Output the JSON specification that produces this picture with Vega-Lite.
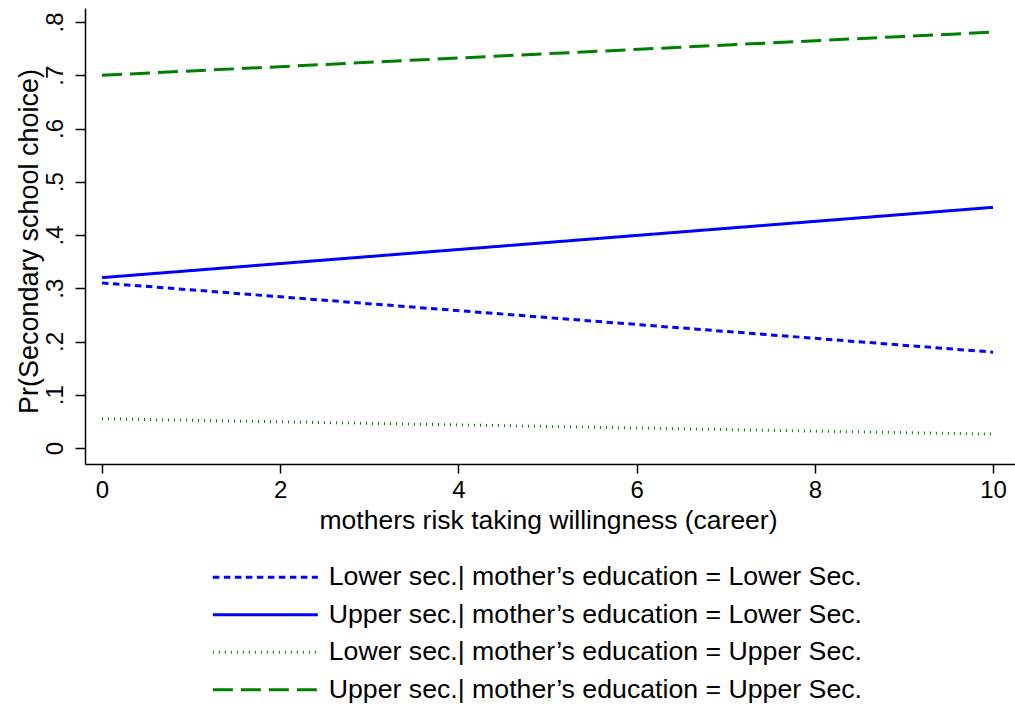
{
  "$schema": "https://vega.github.io/schema/vega-lite/v6.json",
  "width": 930,
  "height": 456,
  "autosize": "none",
  "padding": {"left": 85, "top": 8, "right": 0, "bottom": 241},
  "background": "white",
  "config": {
    "view": {"stroke": null},
    "font": "Liberation Sans",
    "legend": {
      "orient": "none",
      "legendX": 167,
      "legendY": 556,
      "symbolType": "M-5,0H5",
      "symbolSize": 441,
      "symbolStrokeWidth": 3,
      "labelFontSize": 26.7,
      "labelFont": "Liberation Sans",
      "labelColor": "black",
      "labelOffset": 50,
      "labelLimit": 0,
      "rowPadding": 9.5
    }
  },
  "data": {
    "values": [
      {"risk": 0, "p": 0.31, "series": "Lower sec.| mother’s education = Lower Sec."},
      {"risk": 10, "p": 0.18, "series": "Lower sec.| mother’s education = Lower Sec."},
      {"risk": 0, "p": 0.32, "series": "Upper sec.| mother’s education = Lower Sec."},
      {"risk": 10, "p": 0.452, "series": "Upper sec.| mother’s education = Lower Sec."},
      {"risk": 0, "p": 0.055, "series": "Lower sec.| mother’s education = Upper Sec."},
      {"risk": 10, "p": 0.026, "series": "Lower sec.| mother’s education = Upper Sec."},
      {"risk": 0, "p": 0.70, "series": "Upper sec.| mother’s education = Upper Sec."},
      {"risk": 10, "p": 0.781, "series": "Upper sec.| mother’s education = Upper Sec."}
    ]
  },
  "mark": {"type": "line", "strokeWidth": 3, "strokeCap": "butt", "clip": false},
  "encoding": {
    "x": {
      "field": "risk",
      "type": "quantitative",
      "scale": {"domain": [-0.191, 10.247], "nice": false, "zero": false},
      "axis": {
        "title": "mothers risk taking willingness (career)",
        "values": [0, 2, 4, 6, 8, 10],
        "format": "d",
        "grid": false,
        "labelFontSize": 24,
        "labelColor": "black",
        "labelPadding": 5,
        "labelFlush": false,
        "labelOverlap": false,
        "tickColor": "black",
        "tickWidth": 1.5,
        "tickSize": 9,
        "domainColor": "black",
        "domainWidth": 1.5,
        "titleFontSize": 26.5,
        "titleFontWeight": "normal",
        "titleColor": "black",
        "titleBaseline": "alphabetic",
        "titleX": 463,
        "titleY": 64
      }
    },
    "y": {
      "field": "p",
      "type": "quantitative",
      "scale": {"domain": [-0.03, 0.8263], "nice": false, "zero": false},
      "axis": {
        "title": "Pr(Secondary school choice)",
        "values": [0, 0.1, 0.2, 0.3, 0.4, 0.5, 0.6, 0.7, 0.8],
        "labelExpr": "datum.value == 0 ? '0' : '.' + format(datum.value * 10, '.0f')",
        "grid": false,
        "labelAngle": 270,
        "labelAlign": "center",
        "labelBaseline": "alphabetic",
        "labelFontSize": 24,
        "labelColor": "black",
        "labelPadding": 13,
        "labelFlush": false,
        "labelOverlap": false,
        "tickColor": "black",
        "tickWidth": 1.5,
        "tickSize": 10,
        "domainColor": "black",
        "domainWidth": 1.5,
        "titleFontSize": 27,
        "titleFontWeight": "normal",
        "titleColor": "black",
        "titleAngle": 270,
        "titleAlign": "center",
        "titleBaseline": "alphabetic",
        "titleX": -48,
        "titleY": 233
      }
    },
    "color": {
      "field": "series",
      "type": "nominal",
      "title": null,
      "scale": {
        "domain": [
          "Lower sec.| mother’s education = Lower Sec.",
          "Upper sec.| mother’s education = Lower Sec.",
          "Lower sec.| mother’s education = Upper Sec.",
          "Upper sec.| mother’s education = Upper Sec."
        ],
        "range": ["#0000ff", "#0000ff", "#008000", "#008000"]
      }
    },
    "strokeDash": {
      "field": "series",
      "type": "nominal",
      "title": null,
      "scale": {
        "domain": [
          "Lower sec.| mother’s education = Lower Sec.",
          "Upper sec.| mother’s education = Lower Sec.",
          "Lower sec.| mother’s education = Upper Sec.",
          "Upper sec.| mother’s education = Upper Sec."
        ],
        "range": [[6.5, 4.5], [1, 0], [1, 5], [20, 8]]
      }
    }
  }
}
